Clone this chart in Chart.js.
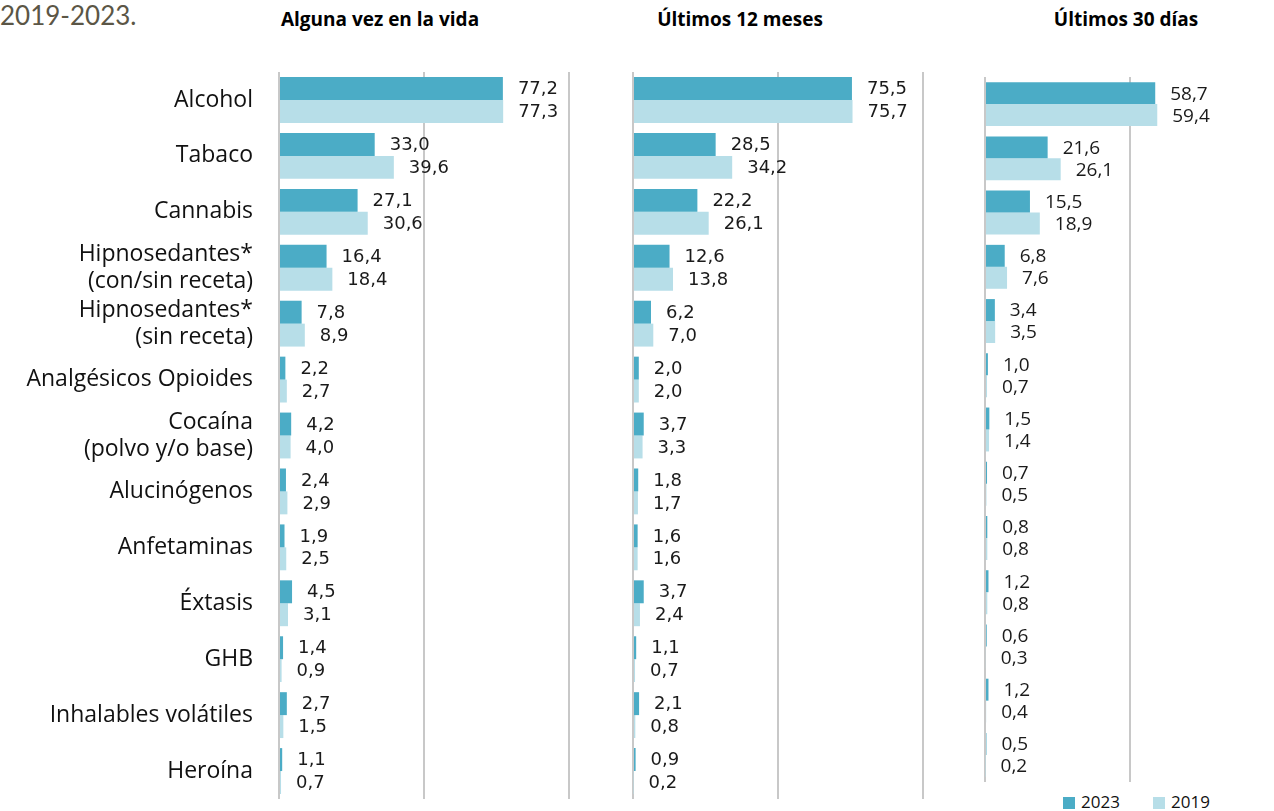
<!DOCTYPE html>
<html>
<head>
<meta charset="utf-8">
<script src="https://cdn.jsdelivr.net/npm/chart.js@4.4.1/dist/chart.umd.min.js"></script>
<style>
  html, body { margin: 0; padding: 0; overflow: hidden; background: #fff; width: 1274px; height: 811px; }
  canvas { position: absolute; }
  .title { position: absolute; top: 6px; transform: translateX(-50%); font-family: "Open Sans", sans-serif; font-weight: bold; font-size: 19px; color: #000; white-space: nowrap; }
  #caption { position: absolute; left: 0; top: -1px; font-family: Lato, sans-serif; font-size: 26px; color: #5b5646; }
  .leg { position: absolute; top: 790px; font-family: "Open Sans", sans-serif; font-size: 17px; color: #111; }
  .leg span { display: inline-block; width: 12px; height: 12px; margin-right: 6px; vertical-align: -1px; }
</style>
</head>
<body>
<div id="caption">2019-2023.</div>
<div class="title" style="left:380px">Alguna vez en la vida</div>
<div class="title" style="left:740px">Últimos 12 meses</div>
<div class="title" style="left:1126px">Últimos 30 días</div>

<canvas id="c1" width="575" height="727" style="left:0px;top:72px"></canvas>
<canvas id="c2" width="304" height="727" style="left:625px;top:72px"></canvas>
<canvas id="c3" width="300" height="705" style="left:977px;top:77px"></canvas>

<div class="leg" id="leg23" style="left:1063px"></div>
<div class="leg" id="leg19" style="left:1153px"></div>

<script>
var substances = [
  'Alcohol', 'Tabaco', 'Cannabis',
  ['Hipnosedantes*', '(con/sin receta)'],
  ['Hipnosedantes*', '(sin receta)'],
  'Analgésicos Opioides',
  ['Cocaína', '(polvo y/o base)'],
  'Alucinógenos', 'Anfetaminas', 'Éxtasis', 'GHB',
  'Inhalables volátiles', 'Heroína'
];

// Alguna vez en la vida
var vida2023 = [77.2, 33.0, 27.1, 16.4, 7.8, 2.2, 4.2, 2.4, 1.9, 4.5, 1.4, 2.7, 1.1];
var vida2019 = [77.3, 39.6, 30.6, 18.4, 8.9, 2.7, 4.0, 2.9, 2.5, 3.1, 0.9, 1.5, 0.7];
// Últimos 12 meses
var meses2023 = [75.5, 28.5, 22.2, 12.6, 6.2, 2.0, 3.7, 1.8, 1.6, 3.7, 1.1, 2.1, 0.9];
var meses2019 = [75.7, 34.2, 26.1, 13.8, 7.0, 2.0, 3.3, 1.7, 1.6, 2.4, 0.7, 0.8, 0.2];
// Últimos 30 días
var dias2023 = [58.7, 21.6, 15.5, 6.8, 3.4, 1.0, 1.5, 0.7, 0.8, 1.2, 0.6, 1.2, 0.5];
var dias2019 = [59.4, 26.1, 18.9, 7.6, 3.5, 0.7, 1.4, 0.5, 0.8, 0.8, 0.3, 0.4, 0.2];

var COLOR_2023 = '#4bacc6';
var COLOR_2019 = '#b7dee8';
var GRID = '#c8c8c8';

function fmt(v) {
  return v.toFixed(1).replace('.', ',');
}

// draws the value next to the end of each bar
var valueLabels = {
  id: 'valueLabels',
  afterDatasetsDraw: function (chart, args, opts) {
    var ctx = chart.ctx;
    ctx.save();
    ctx.font = opts.font;
    ctx.fillStyle = '#1a1a1a';
    ctx.textBaseline = 'middle';
    ctx.textAlign = 'left';
    chart.data.datasets.forEach(function (ds, i) {
      chart.getDatasetMeta(i).data.forEach(function (bar, j) {
        ctx.fillText(fmt(ds.data[j]), bar.x + opts.offset, bar.y + 1);
      });
    });
    ctx.restore();
  }
};

function makeChart(id, d23, d19, opt) {
  var ctx = document.getElementById(id).getContext('2d');
  return new Chart(ctx, {
    type: 'bar',
    data: {
      labels: substances,
      datasets: [
        { label: '2023', data: d23, backgroundColor: COLOR_2023 },
        { label: '2019', data: d19, backgroundColor: COLOR_2019 }
      ]
    },
    plugins: [valueLabels],
    options: {
      indexAxis: 'y',
      responsive: false,
      animation: false,
      devicePixelRatio: 1,
      barPercentage: 1,
      categoryPercentage: opt.catPct,
      layout: { padding: opt.padding },
      plugins: {
        legend: { display: false },
        tooltip: { enabled: false },
        valueLabels: { font: opt.valueFont, offset: 15 }
      },
      scales: {
        x: {
          min: 0,
          max: 100,
          ticks: { display: false, stepSize: 50 },
          grid: { color: GRID, lineWidth: 2, drawTicks: false },
          border: { display: false },
          afterFit: function (scale) { scale.height = 0; }
        },
        y: {
          display: opt.showLabels,
          grid: { display: false, drawTicks: false },
          border: { display: false },
          ticks: {
            autoSkip: false,
            padding: 26,
            color: '#111',
            font: { family: 'Open Sans', size: 23, lineHeight: 1.17 }
          },
          afterFit: function (scale) {
            if (opt.showLabels) scale.width = 279;
            // no extra room above/below for the labels
            scale.paddingTop = 0;
            scale.paddingBottom = 0;
          }
        }
      }
    }
  });
}

makeChart('c1', vida2023, vida2019, {
  showLabels: true, catPct: 0.82,
  padding: { left: 0, right: 6, top: 0, bottom: 0 },
  valueFont: '18px "DejaVu Sans"'
});
makeChart('c2', meses2023, meses2019, {
  showLabels: false, catPct: 0.82,
  padding: { left: 8, right: 6, top: 0, bottom: 0 },
  valueFont: '18px "DejaVu Sans"'
});
makeChart('c3', dias2023, dias2019, {
  showLabels: false, catPct: 0.81,
  padding: { left: 8, right: 2, top: 0, bottom: 0 },
  valueFont: '19px "Open Sans"'
});

document.getElementById('leg23').innerHTML = '<span style="background:' + COLOR_2023 + '"></span>2023';
document.getElementById('leg19').innerHTML = '<span style="background:' + COLOR_2019 + '"></span>2019';
</script>
</body>
</html>
